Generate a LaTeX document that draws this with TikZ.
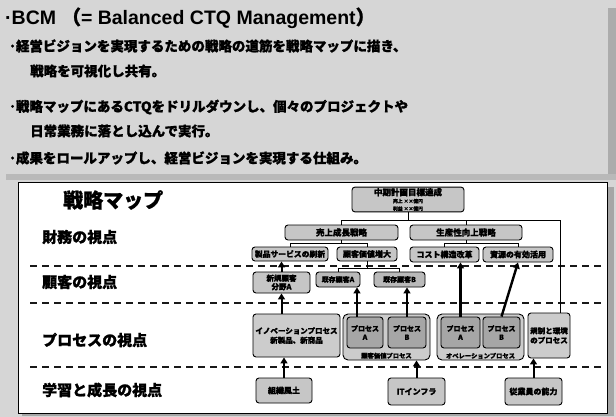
\documentclass[tikz,border=0pt]{standalone}
\usepackage{fontspec}
\setmainfont{Liberation Sans}
\newfontfamily\jp{Noto Sans CJK JP}[BoldFeatures={FakeBold=1.2}]
\usetikzlibrary{arrows.meta,calc}
\begin{document}
\begin{tikzpicture}[x=1pt,y=-1pt,
  box/.style={draw=black, line width=0.9pt, rounded corners=3pt, fill=gray!45, inner sep=1pt, align=center, font=\jp\bfseries\fontsize{8.5}{9.5}\selectfont},
  smallbox/.style={box, font=\jp\bfseries\fontsize{7}{8}\selectfont},
  darkbox/.style={box, fill=gray!70, font=\jp\bfseries\fontsize{7}{8.5}\selectfont},
  grpbox/.style={draw=black, line width=0.9pt, rounded corners=5pt, fill=gray!40},
  grplabel/.style={inner sep=1.5pt, font=\jp\bfseries\fontsize{6.3}{7}\selectfont},
  tree/.style={line width=0.8pt},
  uparrow/.style={line width=2pt, -{Triangle[width=7pt,length=6pt]}},
  dashline/.style={line width=1.2pt, dash pattern=on 7pt off 5pt, gray!20!black},
  viewlabel/.style={anchor=west, inner sep=0pt, font=\jp\bfseries\fontsize{15}{16}\selectfont},
  bannertext/.style={anchor=west, inner sep=0pt, font=\jp\bfseries\fontsize{13.5}{15}\selectfont}]
\useasboundingbox (0,0) rectangle (616,417);
% background
\fill[gray!32] (0,0) rectangle (616,417);
\fill[gray!65] (608,8) rectangle (616,180);
\fill[gray!55] (6,174) rectangle (616,180);
% banner text
\node[anchor=west, inner sep=0pt, font=\bfseries\fontsize{19.5}{21}\selectfont] (title) at (5,18) {·BCM {\jp （}= Balanced CTQ Management{\jp ）}};
\node[bannertext] (l1) at (9,46) {･経営ビジョンを実現するための戦略の道筋を戦略マップに描き、};
\node[bannertext] (l2) at (30,71) {戦略を可視化し共有。};
\node[bannertext] (l3) at (9,107) {･戦略マップにあるCTQをドリルダウンし、個々のプロジェクトや};
\node[bannertext] (l4) at (30,131) {日常業務に落とし込んで実行。};
\node[bannertext] (l5) at (9,158) {･成果をロールアップし、経営ビジョンを実現する仕組み。};
% panel
\fill[gray!70] (607,187) rectangle (614,416);
\fill[gray!70] (22,413) rectangle (614,416);
\draw[fill=white, line width=1pt] (18,183) rectangle (607,413);
% dashed separators
\draw[dashline] (30,266) -- (605,266);
\draw[dashline] (30,303) -- (605,303);
\draw[dashline] (30,367) -- (605,367);
% view labels
\node[anchor=west, inner sep=0pt, font=\jp\bfseries\fontsize{20}{22}\selectfont] (map) at (63,200) {戦略マップ};
\node[viewlabel] (v1) at (42,237) {財務の視点};
\node[viewlabel] (v2) at (42,282) {顧客の視点};
\node[viewlabel] (v3) at (42,340) {プロセスの視点};
\node[viewlabel] (v4) at (42,390) {学習と成長の視点};
% finance
\node[box, minimum width=112pt, minimum height=23pt, font=\jp\bfseries\fontsize{8.5}{9}\selectfont] (top) at (408,199.5) {中期計画目標達成\\[-1.5pt]{\fontsize{4.8}{5}\selectfont 売上 ××億円}\\[-1.5pt]{\fontsize{4.8}{5}\selectfont 利益 ××億円}};
\node[box, minimum width=113pt, minimum height=15pt] (uri) at (341.5,232.5) {売上成長戦略};
\node[box, minimum width=112pt, minimum height=15pt] (sei) at (466,232.5) {生産性向上戦略};
\node[box, minimum width=76pt, minimum height=14pt, font=\jp\bfseries\fontsize{7.8}{8.5}\selectfont] (seihin) at (290,254) {製品サービスの刷新};
\node[box, minimum width=60pt, minimum height=14pt, font=\jp\bfseries\fontsize{8}{8.5}\selectfont] (kachi) at (367,254) {顧客価値増大};
\node[box, minimum width=69pt, minimum height=15pt, font=\jp\bfseries\fontsize{8}{8.5}\selectfont] (cost) at (444.5,254.5) {コスト構造改革};
\node[box, minimum width=70pt, minimum height=15pt, font=\jp\bfseries\fontsize{8}{8.5}\selectfont] (shigen) at (518,254.5) {資源の有効活用};
% customer
\node[box, minimum width=57pt, minimum height=21pt, font=\jp\bfseries\fontsize{7.5}{8.5}\selectfont] (shinki) at (281.5,282.5) {新規顧客\\分野A};
\node[smallbox, minimum width=44pt, minimum height=15pt, fill=gray!55] (kA) at (338,279.5) {既存顧客A};
\node[smallbox, minimum width=51pt, minimum height=15pt, fill=gray!55] (kB) at (399.5,279.5) {既存顧客B};
% process
\node[box, minimum width=87pt, minimum height=43pt, fill=gray!40, font=\jp\bfseries\fontsize{7.5}{9.5}\selectfont] (innov) at (296.5,335.5) {イノベーションプロセス\\新製品、新商品};
\node[grpbox, minimum width=87pt, minimum height=46pt] (g1) at (386.5,337) {};
\node[grplabel, anchor=south] (g1l) at (g1.south) {顧客価値プロセス};
\node[darkbox, minimum width=36pt, minimum height=31pt] (p1a) at (365,332.5) {プロセス\\A};
\node[darkbox, minimum width=38pt, minimum height=31pt] (p1b) at (407,332.5) {プロセス\\B};
\node[grpbox, minimum width=87pt, minimum height=46pt] (g2) at (480.5,337) {};
\node[grplabel, anchor=south] (g2l) at (g2.south) {オペレーションプロセス};
\node[darkbox, minimum width=39pt, minimum height=31pt] (p2a) at (460.5,332.5) {プロセス\\A};
\node[darkbox, minimum width=37pt, minimum height=31pt] (p2b) at (501.5,332.5) {プロセス\\B};
\node[box, minimum width=42pt, minimum height=45pt, fill=gray!40, font=\jp\bfseries\fontsize{7.5}{9.5}\selectfont] (kisei) at (549,335.5) {規制と環境\\のプロセス};
% learning
\node[box, minimum width=56pt, minimum height=25pt, font=\jp\bfseries\fontsize{8}{9}\selectfont] (soshiki) at (284,390.5) {組織風土};
\node[box, minimum width=57pt, minimum height=27pt, font=\jp\bfseries\fontsize{8}{9}\selectfont] (it) at (416.5,391.5) {ITインフラ};
\node[box, minimum width=57pt, minimum height=27pt, font=\jp\bfseries\fontsize{8}{9}\selectfont] (jug) at (533.5,391.5) {従業員の能力};
% tree connectors
\coordinate (tj) at ($(top.south)+(0,8)$);
\coordinate (kj) at (560,0);
\draw[tree] (top.south) -- (tj);
\draw[tree] (uri.north) |- (tj) -| (kj |- tj) -- (kj |- kisei.north);
\draw[tree] (sei.north) -- (sei.north |- tj);
\draw[tree] (uri.south) -- ++(0,3) -| (seihin.north);
\draw[tree] (uri.south) ++(0,3) -| (kachi.north);
\draw[tree] (sei.south) -- ++(0,3) -| (cost.north);
\draw[tree] (sei.south) ++(0,3) -| (shigen.north);
\draw[tree] (kachi.south) -- ++(0,7) -| (kA.north);
\draw[tree] (kachi.south) ++(0,7) -| (kB.north);
% upward arrows
\draw[uparrow] (shinki.north) -- (shinki.north |- seihin.south);
\draw[uparrow] (shinki.south |- innov.north) -- (shinki.south);
\draw[uparrow] (soshiki.north) -- (soshiki.north |- innov.south);
\draw[uparrow] ($(p1a.north)+(-8,0)$) -- ($(p1a.north |- kA.south)+(-8,0)$);
\draw[uparrow] (p1b.north) -- (p1b.north |- kB.south);
\draw[uparrow, line width=2.4pt] (p2a.north) -- (p2a.north |- cost.south);
\draw[uparrow, line width=2.4pt] (p2b.north) -- (shigen.south);
\draw[uparrow] (it.north) -- (it.north |- g1.south);
\draw[uparrow] (jug.north) -- (jug.north |- kisei.south);
\end{tikzpicture}
\end{document}
